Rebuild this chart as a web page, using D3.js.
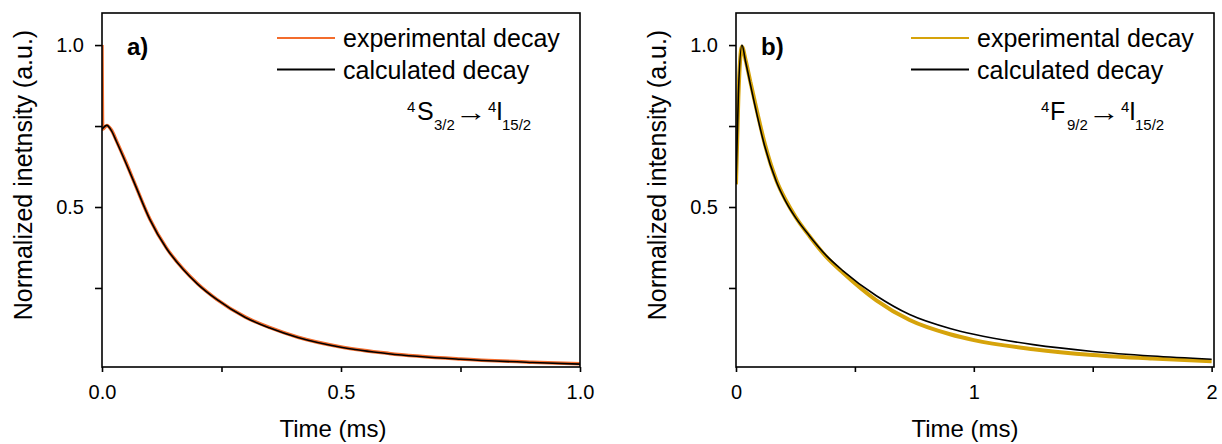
<!DOCTYPE html>
<html>
<head>
<meta charset="utf-8">
<script src="https://cdnjs.cloudflare.com/ajax/libs/d3/7.8.5/d3.min.js"></script>
<style>
body { margin: 0; background: #fff; }
svg text { font-family: "Liberation Sans", Arial, sans-serif; fill: #000; }
</style>
</head>
<body>
<svg id="chart" width="1222" height="444"></svg>
<script>
// panel a) 4S3/2 -> 4I15/2
var expTimeA = [0, 0.0015, 0.01, 0.02, 0.03, 0.05, 0.07, 0.1, 0.135, 0.17, 0.2, 0.24, 0.3, 0.35, 0.41, 0.5, 0.6, 0.75, 0.9, 1.0];
var expA = [1.0, 0.74, 0.752, 0.737, 0.705, 0.638, 0.567, 0.463, 0.373, 0.308, 0.263, 0.215, 0.16, 0.128, 0.098, 0.068, 0.048, 0.031, 0.021, 0.016];
var calcTimeA = [0, 0.01, 0.02, 0.03, 0.05, 0.07, 0.1, 0.135, 0.17, 0.2, 0.24, 0.3, 0.35, 0.41, 0.5, 0.6, 0.75, 0.9, 1.0];
var calcA = [0.74, 0.752, 0.735, 0.703, 0.636, 0.566, 0.462, 0.372, 0.307, 0.262, 0.2145, 0.159, 0.127, 0.097, 0.067, 0.047, 0.030, 0.020, 0.015];

// panel b) 4F9/2 -> 4I15/2
var timeB = [0, 0.01, 0.025, 0.04, 0.06, 0.09, 0.12, 0.17, 0.21, 0.25, 0.31, 0.38, 0.45, 0.59, 0.73, 0.9, 1.0, 1.25, 1.5, 1.75, 2.0];
var expB = [0.57, 0.84, 0.995, 0.955, 0.888, 0.79, 0.698, 0.582, 0.52, 0.47, 0.409, 0.346, 0.297, 0.212, 0.151, 0.107, 0.089, 0.061, 0.043, 0.032, 0.024];
var calcB = [0.57, 0.85, 1.0, 0.95, 0.88, 0.78, 0.69, 0.578, 0.516, 0.468, 0.41, 0.35, 0.303, 0.226, 0.168, 0.125, 0.107, 0.075, 0.054, 0.04, 0.03];

var yTicks = [0.25, 0.5, 0.75, 1.0];
var xTicksA = [0, 0.25, 0.5, 0.75, 1.0];
var xTicksB = [0, 0.5, 1, 1.5, 2];
var legendLabels = ["experimental decay", "calculated decay"];

var svg = d3.select("#chart"),
    plotTop = 13,
    plotBottom = 367;

function drawPanel(p) {
    var x = d3.scaleLinear().domain(p.xDomain).range([p.left, p.right]);
    var y = d3.scaleLinear().domain([0.006, 1.099]).range([plotBottom, plotTop]);
    var g = svg.append("g");

    g.append("clipPath").attr("id", "clip" + p.id)
        .append("rect")
        .attr("x", p.left).attr("y", plotTop)
        .attr("width", p.right - p.left).attr("height", plotBottom - plotTop);

    var line = d3.line()
        .x(function (d) { return x(d[0]); })
        .y(function (d) { return y(d[1]); })
        .curve(d3.curveMonotoneX);

    var curves = g.append("g").attr("clip-path", "url(#clip" + p.id + ")");
    curves.append("path")
        .datum(d3.zip(p.expTime, p.exp))
        .attr("fill", "none")
        .attr("stroke", p.color)
        .attr("stroke-width", p.expWidth)
        .attr("d", line);
    curves.append("path")
        .datum(d3.zip(p.calcTime, p.calc))
        .attr("fill", "none")
        .attr("stroke", "#000")
        .attr("stroke-width", 1.6)
        .attr("d", line);

    // frame
    g.append("rect")
        .attr("x", p.left).attr("y", plotTop)
        .attr("width", p.right - p.left).attr("height", plotBottom - plotTop)
        .attr("fill", "none")
        .attr("stroke", "#000")
        .attr("stroke-width", 1.6);

    var xAxis = g.append("g")
        .attr("transform", "translate(0," + plotBottom + ")")
        .call(d3.axisBottom(x).tickValues(p.xTicks).tickSize(5).tickSizeOuter(0).tickPadding(13)
            .tickFormat(function (d, i) { return i % 2 ? "" : p.xFormat(d); }));

    var yAxis = g.append("g")
        .attr("transform", "translate(" + p.left + ",0)")
        .call(d3.axisLeft(y).tickValues(yTicks).tickSize(7).tickSizeOuter(0).tickPadding(11)
            .tickFormat(function (d) { return (d === 0.5 || d === 1) ? d3.format(".1f")(d) : ""; }));

    [xAxis, yAxis].forEach(function (a) {
        a.attr("font-size", 20).attr("font-family", null);
        a.selectAll("line, path").attr("stroke-width", 1.6);
        a.select(".domain").remove();
    });

    g.append("text")
        .attr("x", p.xTitleX).attr("y", 437)
        .attr("text-anchor", "middle")
        .attr("font-size", 24)
        .text("Time (ms)");

    g.append("text")
        .attr("transform", "translate(" + (p.left - 70) + ",175)rotate(-90)")
        .attr("text-anchor", "middle")
        .attr("font-size", 25)
        .text(p.yTitle);

    g.append("text")
        .attr("x", p.left + 25).attr("y", 55)
        .attr("font-size", 24)
        .attr("font-weight", "bold")
        .text(p.tag);

    // to show color->meaning
    var tags = g.append("g")
        .selectAll("g")
        .data(legendLabels)
        .enter().append("g")
        .attr("transform", function (d, i) { return "translate(" + p.legendX + "," + (38 + i * 31.5) + ")"; });

    tags.append("line")
        .attr("x2", 58)
        .attr("stroke", function (d, i) { return i ? "#000" : p.color; })
        .attr("stroke-width", 2);

    tags.append("text")
        .attr("x", 66)
        .attr("y", 9)
        .attr("font-size", 25)
        .text(function (d) { return d; });

    // transition label, pieces placed one by one
    var note = g.append("g").attr("transform", "translate(" + p.noteX + ",120)");
    note.selectAll("text")
        .data(p.note)
        .enter().append("text")
        .attr("x", function (d) { return d[1]; })
        .attr("y", function (d) { return d[2]; })
        .attr("font-size", function (d) { return d[3]; })
        .attr("textLength", function (d) { return d[0] === "\u2192" ? 32 : null; })
        .attr("lengthAdjust", "spacingAndGlyphs")
        .text(function (d) { return d[0]; });
}

drawPanel({
    id: "a", left: 102, right: 580, xDomain: [0, 1.0], xTicks: xTicksA,
    xFormat: d3.format(".1f"), color: "#f36c2c", expWidth: 3.5,
    expTime: expTimeA, exp: expA, calcTime: calcTimeA, calc: calcA,
    xTitleX: 333, yTitle: "Normalized inetnsity (a.u.)", tag: "a)", legendX: 277,
    noteX: 407,
    note: [["4", 0, -8, 15], ["S", 10, 0, 25], ["3/2", 27, 10, 15], ["\u2192", 48, 1, 25],
           ["4", 81, -8, 15], ["I", 89, 0, 25], ["15/2", 95, 10, 15]]
});

drawPanel({
    id: "b", left: 736, right: 1214, xDomain: [0, 2.01], xTicks: xTicksB,
    xFormat: d3.format("d"), color: "#d6a30a", expWidth: 4,
    expTime: timeB, exp: expB, calcTime: timeB, calc: calcB,
    xTitleX: 965, yTitle: "Normalized intensity (a.u.)", tag: "b)", legendX: 911,
    noteX: 1041,
    note: [["4", 0, -8, 15], ["F", 9, 0, 25], ["9/2", 26, 10, 15], ["\u2192", 47, 1, 25],
           ["4", 80, -8, 15], ["I", 88, 0, 25], ["15/2", 94, 10, 15]]
});
</script>
</body>
</html>
